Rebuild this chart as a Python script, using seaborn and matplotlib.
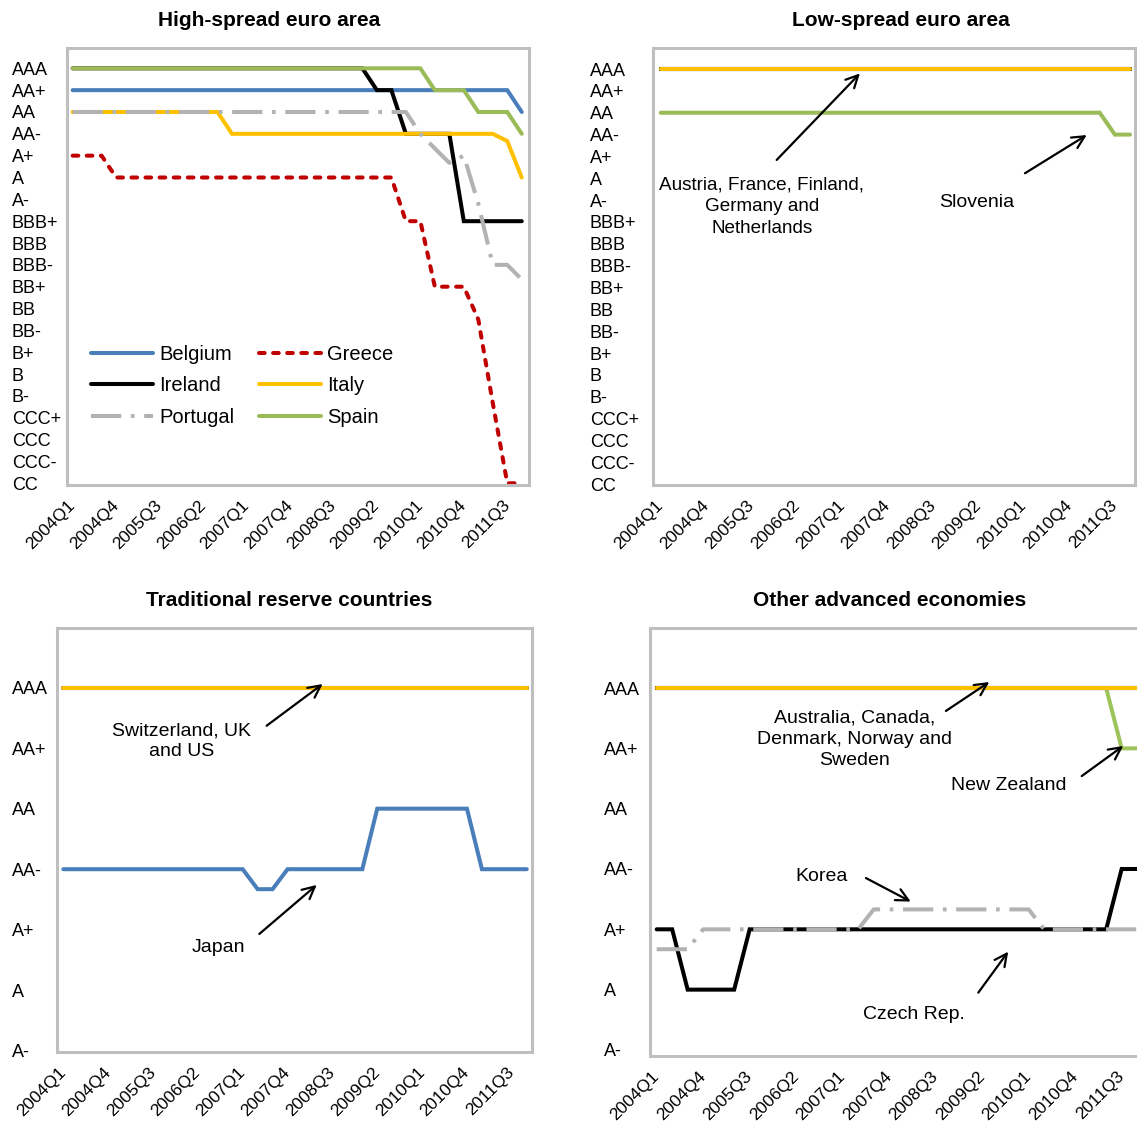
import seaborn as sns
import matplotlib.pyplot as plt

# quarters 2004Q1 .. 2011Q4, one point per quarter
quarters = [f"{y}Q{q}" for y in range(2004, 2012) for q in range(1, 5)]
qidx = list(range(len(quarters)))

ratings_long = ["AAA", "AA+", "AA", "AA-", "A+", "A", "A-", "BBB+", "BBB", "BBB-",
                "BB+", "BB", "BB-", "B+", "B", "B-", "CCC+", "CCC", "CCC-", "CC"]
ratings_short = ratings_long[:7]

# ratings as notches below AAA (0 = AAA, 1 = AA+, ...)
# high-spread euro area
belgium = [1] * 31 + [2]
greece = [4] * 3 + [5] * 20 + [7] * 2 + [10] * 3 + [11.5, 15.33, 19, 19]
ireland = [0] * 21 + [1] * 2 + [3] * 4 + [7] * 5
italy = [2] * 11 + [3] * 19 + [3.33, 5]
portugal = [2] * 24 + [3, 3.67, 4.33, 4, 6.2, 9, 9, 9.67]
spain = [0] * 25 + [1] * 3 + [2] * 3 + [3]

# low-spread euro area
core_euro = [0] * 32          # Austria, France, Finland, Germany, Netherlands
slovenia = [2] * 30 + [3] * 2

# traditional reserve countries
reserve = [0] * 32            # Switzerland, UK, US
japan = [3] * 13 + [3.33] * 2 + [3] * 6 + [2] * 7 + [3] * 4

# other advanced economies
other_aaa = [0] * 32          # Australia, Canada, Denmark, Norway, Sweden
new_zealand = [0] * 30 + [1] * 2
czech = [4] * 2 + [5] * 4 + [4] * 24 + [3] * 2
korea = [4.33] * 3 + [4] * 11 + [3.67] * 11 + [4] * 7

BLUE = "#4A7EBB"
RED = "#C00000"
YELLOW = "#FFC000"
GREY = "#B2B2B2"
GREEN = "#9BBB59"
NZGREEN = "#9DC45A"

LW = 2.9
solid = dict(solid_capstyle="round", solid_joinstyle="miter")
dashed = dict(linestyle=(0, (1.4, 2.1)), dash_capstyle="round")
dashdot = dict(linestyle=(0, (7.5, 2.4, 0.9, 2.4)), dash_capstyle="butt")

sns.set_style("white")
plt.rcParams["font.family"] = ["Liberation Sans", "DejaVu Sans"]
plt.rcParams["text.color"] = "black"
plt.rcParams["xtick.color"] = "black"
plt.rcParams["ytick.color"] = "black"

fig = plt.figure(figsize=(11.37, 11.29), dpi=100)
W, H = 1137, 1129


def px_axes(l, t, r, b):
    return fig.add_axes([l / W, 1 - b / H, (r - l) / W, (b - t) / H])


ax_tl = px_axes(67, 48, 529, 485)
ax_tr = px_axes(653.3, 48.3, 1135, 485)
ax_bl = px_axes(56.7, 628.3, 531.7, 1052)
ax_br = px_axes(650, 628.3, 1142.6, 1056)

ANN = 14


def line(ax, vals, color, style=solid, **kw):
    sns.lineplot(x=qidx, y=vals, ax=ax, color=color, lw=LW, **style, **kw)


def style_axes(ax, labels, xlim, ylim, ypad):
    ax.set_xlim(*xlim)
    ax.set_ylim(*ylim)
    ax.set_yticks(range(len(labels)))
    ax.set_yticklabels(labels)
    ax.set_xticks(qidx[::3])
    ax.set_xticklabels(quarters[::3], rotation=45, ha="right",
                       va="center", rotation_mode="anchor", fontsize=12.5)
    ax.tick_params(axis="y", length=0, pad=ypad, labelsize=13)
    ax.tick_params(axis="x", length=0, pad=13)
    for lab in ax.get_yticklabels():
        lab.set_horizontalalignment("left")
    for sp in ax.spines.values():
        sp.set_visible(True)
        sp.set_color("#BFBFBF")
        sp.set_linewidth(2.2)
    ax.set_xlabel("")
    ax.set_ylabel("")


def arrow(ax, tail, head):
    ax.annotate("", xy=head, xytext=tail,
                arrowprops=dict(arrowstyle="->", color="black", lw=1.6,
                                mutation_scale=22, shrinkA=0, shrinkB=0))


# --- High-spread euro area
line(ax_tl, belgium, BLUE, label="Belgium")
line(ax_tl, ireland, "black", label="Ireland")
line(ax_tl, italy, YELLOW, label="Italy")
line(ax_tl, portugal, GREY, dashdot, label="Portugal")
line(ax_tl, spain, GREEN, label="Spain")
line(ax_tl, greece, RED, dashed, label="Greece")
style_axes(ax_tl, ratings_long, (-0.39, 31.5), (19.08, -0.93), 39.6)
h, l = ax_tl.get_legend_handles_labels()
order = ["Belgium", "Ireland", "Portugal", "Greece", "Italy", "Spain"]
hd = dict(zip(l, h))
ax_tl.legend([hd[k] for k in order], order, loc="upper left",
             bbox_to_anchor=(0.052, 0.321), ncol=2, frameon=False, fontsize=14.5,
             handlelength=3.1, handletextpad=0.3, columnspacing=1.2,
             labelspacing=0.62, borderpad=0, borderaxespad=0)

# --- Low-spread euro area
for c in ["black", "black", "black", "black"]:
    line(ax_tr, core_euro, c)
line(ax_tr, core_euro, YELLOW)
line(ax_tr, slovenia, GREEN)
style_axes(ax_tr, ratings_long, (-0.49, 31.33), (19.04, -0.95), 45.6)
ax_tr.text(6.69, 6.3, "Austria, France, Finland,\nGermany and\nNetherlands",
           ha="center", va="center", fontsize=13.6, linespacing=1.35)
arrow(ax_tr, (7.66, 4.16), (13.16, 0.2))
ax_tr.text(20.9, 6.13, "Slovenia", ha="center", va="center", fontsize=ANN)
arrow(ax_tr, (24.06, 4.77), (28.14, 3.02))

# --- Traditional reserve countries
line(ax_bl, reserve, "black")
line(ax_bl, reserve, RED)
line(ax_bl, reserve, YELLOW)
line(ax_bl, japan, BLUE)
style_axes(ax_bl, ratings_short, (-0.44, 31.33), (6.02, -0.98), 32.2)
ax_bl.text(7.94, 0.89, "Switzerland, UK\nand US", ha="center", va="center",
           fontsize=ANN, linespacing=1.25)
arrow(ax_bl, (13.6, 0.63), (17.35, -0.06))
ax_bl.text(10.35, 4.30, "Japan", ha="center", va="center", fontsize=ANN)
arrow(ax_bl, (13.11, 4.07), (16.95, 3.26))

# --- Other advanced economies
line(ax_br, new_zealand, NZGREEN)
for c in ["black", "black", "black", RED]:
    line(ax_br, other_aaa, c)
line(ax_br, other_aaa, YELLOW)
line(ax_br, czech, "black")
line(ax_br, korea, GREY, dashdot)
style_axes(ax_br, ratings_short, (-0.43, 31.35), (6.10, -0.99), 33.1)
ax_br.text(12.79, 0.85, "Australia, Canada,\nDenmark, Norway and\nSweden",
           ha="center", va="center", fontsize=ANN, linespacing=1.3)
arrow(ax_br, (18.66, 0.38), (21.46, -0.10))
ax_br.text(22.74, 1.61, "New Zealand", ha="center", va="center", fontsize=ANN)
arrow(ax_br, (27.42, 1.46), (30.1, 0.96))
ax_br.text(10.67, 3.12, "Korea", ha="center", va="center", fontsize=ANN)
arrow(ax_br, (13.5, 3.15), (16.39, 3.54))
ax_br.text(16.6, 5.41, "Czech Rep.", ha="center", va="center", fontsize=ANN)
arrow(ax_br, (20.75, 5.05), (22.68, 4.37))

# panel titles
for x, y, t in [(269, 20, "High-spread euro area"), (901, 20, "Low-spread euro area"),
                (289.5, 600, "Traditional reserve countries"),
                (890, 600, "Other advanced economies")]:
    fig.text(x / W, 1 - y / H, t, ha="center", va="center", fontsize=15,
             fontweight="bold")

fig.savefig("out.png", dpi=100)
